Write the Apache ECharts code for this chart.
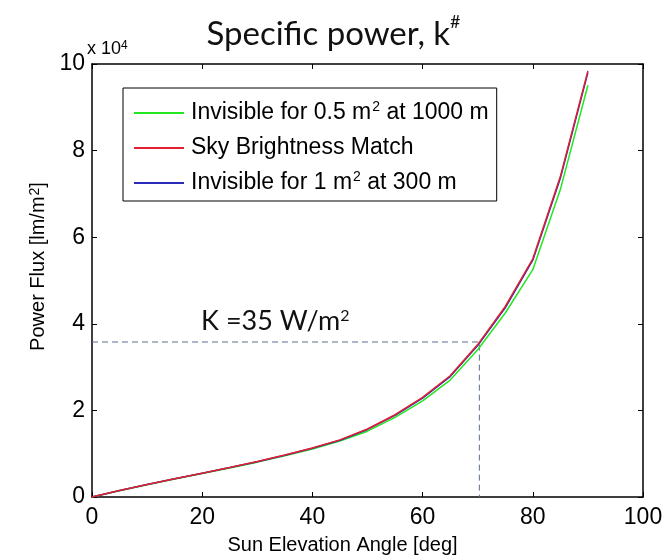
<!DOCTYPE html>
<html>
<head>
    <meta charset="utf-8">
    <title>Specific power</title>
    <script src="https://cdn.jsdelivr.net/npm/echarts@6/dist/echarts.min.js"></script>
    <style>
        html, body { margin: 0; padding: 0; background: #fff; }
        #chart { width: 667px; height: 556px; }
    </style>
</head>
<body>
<div id="chart"></div>
<script>
    // sun elevation angle [deg]
    var angles = [0, 5, 10, 15, 20, 25, 30, 35, 40, 45, 50, 55, 60, 65, 70, 75, 80, 85, 90];
    // power flux [lm/m2]
    var invisible05 = [0, 1450, 2850, 4150, 5450, 6700, 8050, 9500, 11100, 12900, 15200, 18400, 22200, 27000, 34000, 42500, 52500, 71000, 95100];
    var skyMatch    = [0, 1500, 2900, 4200, 5500, 6800, 8200, 9700, 11300, 13200, 15700, 19000, 23000, 28000, 35200, 44000, 55000, 74000, 98400];
    var invisible1  = [0, 1500, 2900, 4200, 5500, 6800, 8150, 9650, 11250, 13100, 15600, 18850, 22850, 27800, 35000, 43700, 54700, 73600, 98000];
    var seriesNames = ['Invisible for 0.5 m2 at 1000 m', 'Sky Brightness Match', 'Invisible for 1 m2 at 300 m'];
    var legendLabels = ['Invisible for 0.5 m{sup|2} at 1000 m', 'Sky Brightness Match', 'Invisible for 1 m{sup|2} at 300 m'];
    var yTicks = [0, 2, 4, 6, 8, 10]; // x 10^4
    var kneeAngle = 70.3;
    var kneeFlux = 35800;

    function pairs(vals) {
        return angles.map(function (a, i) { return [a, vals[i]]; });
    }

    var axisFont = 'Liberation Sans';
    var myChart = echarts.init(document.getElementById('chart'));
    var sup = { fontSize: 14, verticalAlign: 'top', fontFamily: axisFont, color: '#000', padding: [0, 0, 0, 1] };

    var option = {
        backgroundColor: '#ffffff',
        animation: false,
        title: {
            text: '{a|Specific power, k}{b|#}',
            left: 'center',
            top: 8,
            textStyle: {
                fontWeight: 'normal',
                rich: {
                    a: { fontFamily: 'Lato', fontSize: 33, fontWeight: 'normal', color: '#111', lineHeight: 42 },
                    b: { fontFamily: 'Lato', fontSize: 18, fontWeight: 'normal', color: '#111', verticalAlign: 'top' }
                }
            }
        },
        grid: { left: 92, right: 24, top: 64, bottom: 59, containLabel: false, outerBoundsMode: 'none' },
        legend: {
            orient: 'vertical',
            left: 123,
            top: 88,
            data: [seriesNames[0], seriesNames[1], seriesNames[2]],
            backgroundColor: '#fff',
            borderColor: '#000',
            borderWidth: 1,
            borderRadius: 0,
            padding: [12, 8, 5, 10],
            itemGap: 9,
            itemWidth: 50,
            itemHeight: 14,
            itemStyle: { opacity: 0 },
            formatter: function (name) {
                return legendLabels[seriesNames.indexOf(name)];
            },
            textStyle: {
                fontFamily: axisFont,
                fontSize: 23,
                color: '#000',
                lineHeight: 26,
                padding: [0, 0, 0, 2],
                rich: { sup: sup }
            }
        },
        xAxis: [{
            type: 'value',
            min: 0, max: 100, interval: 20,
            name: 'Sun Elevation Angle [deg]',
            nameLocation: 'middle',
            nameGap: 38,
            nameTextStyle: { fontFamily: axisFont, fontSize: 20, color: '#000', padding: [0, 50, 0, 0] },
            axisLine: { lineStyle: { color: '#000', width: 1.5 } },
            axisTick: { inside: true, length: 5, lineStyle: { color: '#000' } },
            axisLabel: { fontFamily: axisFont, fontSize: 23, color: '#000', margin: 9 },
            splitLine: { show: false }
        }, {
            type: 'value',
            position: 'top',
            min: 0, max: 100, interval: 20,
            axisLine: { show: true, onZero: false, lineStyle: { color: '#000', width: 1.5 } },
            axisTick: { inside: true, length: 5, lineStyle: { color: '#000' } },
            axisLabel: { show: false },
            splitLine: { show: false }
        }],
        yAxis: [{
            type: 'value',
            min: 0, max: 100000, interval: 20000,
            name: 'Power Flux [lm/m{sup|2}]',
            nameLocation: 'middle',
            nameGap: 44,
            nameTextStyle: { fontFamily: axisFont, fontSize: 20, color: '#000', padding: [0, 0, 0, 28], rich: { sup: sup } },
            axisLine: { lineStyle: { color: '#000', width: 1.5 } },
            axisTick: { inside: true, length: 5, lineStyle: { color: '#000' } },
            axisLabel: {
                fontFamily: axisFont, fontSize: 23, color: '#000', margin: 7,
                formatter: function (v) { return String(yTicks[Math.round(v / 20000)]); }
            },
            splitLine: { show: false }
        }, {
            type: 'value',
            position: 'right',
            min: 0, max: 100000, interval: 20000,
            axisLine: { show: true, onZero: false, lineStyle: { color: '#000', width: 1.5 } },
            axisTick: { inside: true, length: 5, lineStyle: { color: '#000' } },
            axisLabel: { show: false },
            splitLine: { show: false }
        }],
        series: [{
            name: seriesNames[0],
            type: 'line',
            data: pairs(invisible05),
            symbol: 'none',
            lineStyle: { color: '#22e622', width: 1.5 },
            itemStyle: { color: '#22e622' },
            z: 3
        }, {
            name: seriesNames[2],
            type: 'line',
            data: pairs(invisible1),
            symbol: 'none',
            lineStyle: { color: '#2a2ab8', width: 1.5 },
            itemStyle: { color: '#2a2ab8' },
            z: 4
        }, {
            name: seriesNames[1],
            type: 'line',
            data: pairs(skyMatch),
            symbol: 'none',
            lineStyle: { color: '#e0202e', width: 1.5 },
            itemStyle: { color: '#e0202e' },
            z: 5
        }, {
            name: 'knee',
            type: 'line',
            data: [[0, kneeFlux], [kneeAngle, kneeFlux], [kneeAngle, 0]],
            symbol: 'none',
            silent: true,
            lineStyle: { color: '#5a6d8c', width: 1, type: [6, 4] },
            z: 2,
            markPoint: {
                symbol: 'circle',
                symbolSize: 0,
                data: [{ coord: [19.8, 40600] }],
                label: {
                    show: true,
                    position: 'right',
                    distance: 0,
                    formatter: 'K =35 W/m{s|2}',
                    fontFamily: 'Lato',
                    fontSize: 27,
                    color: '#111',
                    rich: { s: { fontFamily: 'Lato', fontSize: 16, verticalAlign: 'top', color: '#111' } }
                }
            }
        }],
        graphic: [{
            type: 'text',
            left: 87,
            top: 40,
            style: {
                text: 'x 10{s|4}',
                fontFamily: axisFont,
                fontSize: 18,
                fill: '#000',
                rich: { s: { fontFamily: axisFont, fontSize: 12, verticalAlign: 'top', fill: '#000' } }
            }
        }]
    };

    myChart.setOption(option);
</script>
</body>
</html>
